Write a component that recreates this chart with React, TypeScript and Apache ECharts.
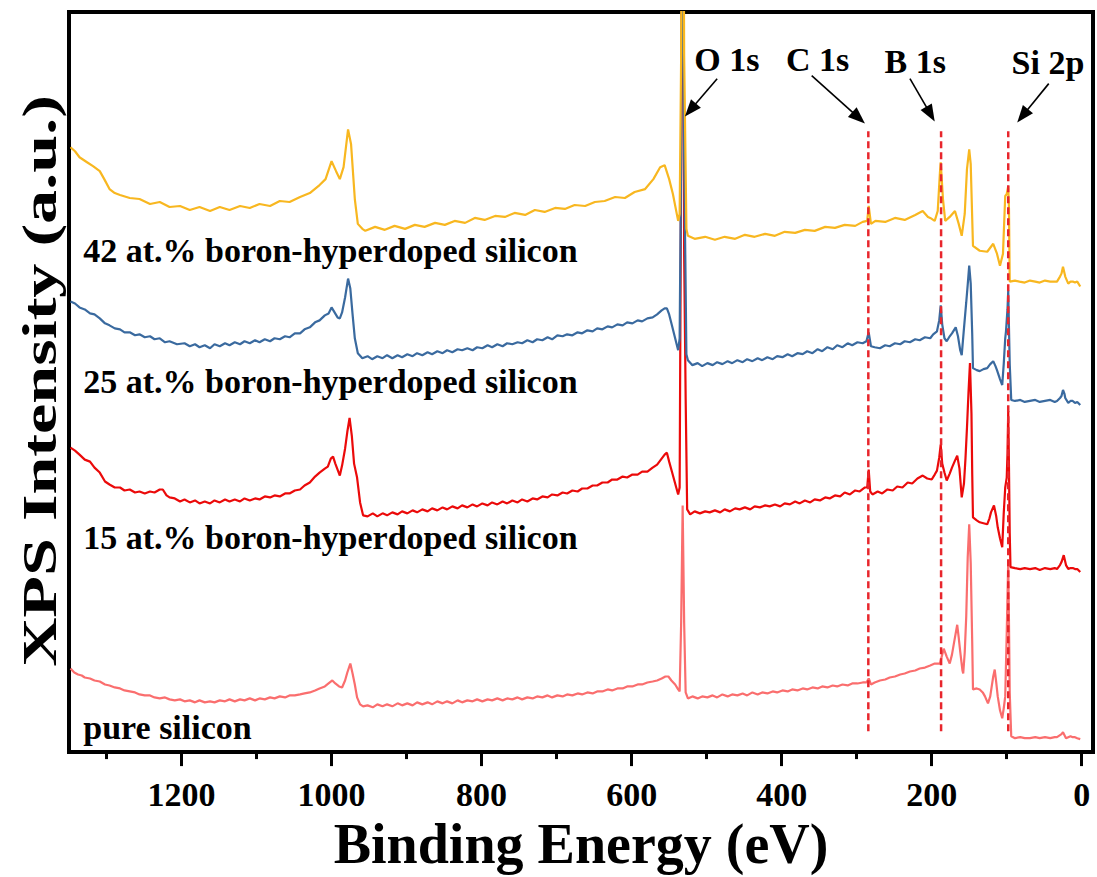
import React, { useEffect, useRef } from 'react';
import * as echarts from 'echarts';

// Binding energy tick labels (eV) and minor ticks
const energyTicks = [0, 200, 400, 600, 800, 1000, 1200];
const minorEnergyTicks = [100, 300, 500, 700, 900, 1100, 1300];

const sampleNames = [
  'pure silicon',
  '15 at.% boron-hyperdoped silicon',
  '25 at.% boron-hyperdoped silicon',
  '42 at.% boron-hyperdoped silicon',
];

const peakNames = ['O 1s', 'C 1s', 'B 1s', 'Si 2p'];
const peakEnergies = [532, 284.5, 187.5, 98];
const markerEnergies = [284.5, 187.5, 98];

// [binding energy (eV), stacked intensity (a.u.)]
const pureSi = [
  [1348,84],[1343,80],[1338,78],[1333,77],[1329,75],[1322,74],[1316,72],[1309,71],[1302,68],[1296,67],[1289,65],[1282,64],[1276,62],[1269,61],[1262,60],[1256,58],[1249,57],[1242,57],[1236,55],[1229,54],[1222,55],[1216,53],[1209,52],[1202,53],[1196,51],[1189,52],[1182,50],[1176,52],[1169,50],[1162,51],[1156,50],[1149,52],[1142,51],[1136,53],[1129,51],[1122,53],[1116,52],[1109,54],[1102,52],[1096,54],[1089,53],[1082,55],[1076,54],[1069,56],[1062,55],[1056,57],[1049,57],[1042,58],[1036,59],[1029,60],[1022,62],[1016,64],[1009,66],[1004,69],[999,72],[995,69],[990,66],[986,65],[982,72],[979,80],[975,89],[972,79],[969,68],[966,55],[962,48],[958,46],[952,47],[945,45],[939,48],[932,46],[926,48],[919,46],[912,49],[906,47],[899,49],[892,47],[886,50],[879,48],[872,50],[866,48],[859,51],[852,49],[846,51],[839,49],[832,52],[826,50],[819,52],[812,51],[806,53],[799,51],[792,53],[786,52],[779,54],[772,52],[766,54],[759,53],[752,55],[746,53],[739,55],[732,54],[726,56],[719,55],[712,57],[706,55],[699,57],[692,56],[686,58],[679,57],[672,59],[666,58],[659,60],[652,59],[646,61],[639,61],[632,63],[626,62],[619,64],[612,64],[606,66],[599,66],[592,68],[586,68],[579,70],[572,71],[566,72],[560,74],[555,76],[551,76],[547,72],[542,68],[538,63],[536,61],[534,130],[532,248],[530,130],[528,60],[525,54],[519,56],[512,54],[506,56],[499,55],[492,57],[486,55],[479,58],[472,56],[466,58],[459,57],[452,59],[446,57],[439,60],[432,58],[426,60],[419,59],[412,61],[406,60],[399,62],[392,61],[386,63],[379,62],[372,64],[366,63],[359,65],[352,64],[346,66],[339,65],[332,67],[326,66],[319,68],[312,67],[306,69],[299,69],[292,70],[287,70],[284,74],[281,68],[276,70],[269,72],[262,73],[256,75],[249,76],[242,78],[236,79],[229,81],[222,82],[216,84],[209,85],[202,87],[196,89],[189,89],[186,98],[184,104],[182,100],[180,96],[176,89],[173,98],[170,111],[166,128],[164,115],[162,101],[159,82],[158,79],[156,100],[154,136],[152,196],[150,229],[148,190],[146,110],[145,63],[140,64],[136,63],[132,60],[129,56],[125,49],[122,56],[120,66],[118,76],[116,83],[114,70],[112,56],[109,42],[106,34],[104,44],[102,56],[100,120],[98,193],[97,130],[96,60],[94,16],[89,14],[82,15],[76,14],[69,14],[62,15],[56,14],[49,15],[42,14],[36,15],[33,15],[29,17],[27,18],[25,20],[23,17],[21,14],[18,15],[15,16],[12,15],[9,15],[6,14],[2,13],
];

const boron15 = [
  [1348,306],[1342,303],[1336,299],[1329,294],[1322,292],[1316,286],[1309,281],[1302,272],[1296,269],[1289,266],[1282,266],[1276,263],[1269,264],[1262,261],[1256,262],[1249,260],[1242,262],[1236,261],[1229,264],[1225,264],[1220,258],[1216,256],[1209,255],[1202,252],[1196,254],[1189,251],[1182,253],[1176,250],[1169,252],[1162,250],[1156,253],[1149,251],[1142,254],[1136,252],[1129,254],[1122,252],[1116,255],[1109,253],[1102,255],[1096,254],[1089,257],[1082,256],[1076,258],[1069,257],[1062,260],[1056,260],[1049,263],[1042,264],[1036,268],[1029,271],[1022,277],[1016,281],[1009,285],[1005,287],[1001,295],[998,297],[995,290],[992,284],[989,278],[986,288],[982,305],[979,322],[976,336],[973,318],[970,290],[966,276],[962,251],[958,238],[952,237],[945,240],[939,237],[932,240],[926,238],[919,241],[912,239],[906,242],[899,240],[892,243],[886,241],[879,244],[872,242],[866,245],[859,243],[852,246],[846,244],[839,247],[832,245],[826,248],[819,246],[812,249],[806,247],[799,250],[792,248],[786,251],[779,249],[772,252],[766,250],[759,253],[752,251],[746,254],[739,252],[732,255],[726,254],[719,257],[712,256],[706,259],[699,258],[692,261],[686,260],[679,263],[672,262],[666,265],[659,265],[652,268],[646,268],[639,271],[632,271],[626,274],[619,274],[612,277],[606,276],[599,279],[592,279],[586,282],[579,282],[572,286],[566,289],[560,295],[556,299],[553,301],[550,292],[546,281],[542,270],[538,259],[536,266],[534,600],[532,1000],[530,500],[528,356],[526,244],[522,239],[516,242],[509,240],[502,242],[496,241],[489,243],[482,241],[476,244],[469,242],[462,245],[456,244],[449,246],[442,244],[436,247],[429,246],[422,248],[416,247],[409,249],[402,247],[396,250],[389,249],[382,252],[376,250],[369,253],[362,251],[356,254],[349,253],[342,256],[336,255],[329,258],[322,257],[316,261],[309,259],[302,263],[296,262],[289,266],[286,266],[284,284],[282,262],[279,259],[272,262],[266,260],[259,264],[252,263],[246,267],[239,266],[232,271],[226,270],[219,275],[212,278],[206,275],[200,274],[196,279],[193,283],[190,296],[188,309],[186,290],[183,281],[180,273],[176,280],[173,286],[169,293],[166,298],[163,285],[160,256],[157,270],[155,295],[153,326],[151,361],[149,391],[147,340],[146,280],[145,236],[140,233],[136,231],[131,230],[126,229],[123,235],[121,241],[117,248],[114,237],[112,226],[109,215],[106,206],[104,240],[102,266],[100,276],[99,300],[98,343],[97,286],[96,220],[95,186],[89,185],[82,184],[76,185],[69,184],[62,185],[56,183],[49,185],[42,184],[36,185],[33,184],[29,188],[27,191],[24,198],[21,188],[18,184],[15,185],[12,185],[9,184],[6,184],[2,181],
];

const boron25 = [
  [1348,453],[1342,451],[1336,447],[1329,445],[1322,441],[1316,440],[1309,436],[1302,431],[1296,429],[1289,426],[1282,425],[1276,422],[1269,422],[1262,419],[1256,420],[1249,417],[1242,418],[1236,415],[1229,416],[1222,412],[1216,413],[1206,410],[1196,411],[1189,408],[1182,410],[1176,407],[1169,409],[1162,406],[1156,410],[1149,408],[1142,411],[1136,409],[1129,412],[1122,410],[1116,413],[1109,411],[1102,414],[1096,412],[1089,415],[1082,413],[1076,416],[1069,415],[1062,418],[1056,417],[1049,421],[1042,421],[1036,425],[1029,427],[1022,432],[1016,434],[1009,439],[1004,441],[1000,447],[996,442],[992,437],[989,436],[986,442],[982,457],[978,476],[975,466],[972,440],[969,416],[965,401],[959,396],[952,398],[946,395],[939,398],[932,396],[926,399],[919,396],[912,399],[906,397],[899,400],[892,398],[886,401],[879,399],[872,402],[866,400],[859,403],[852,401],[846,404],[839,402],[832,405],[826,404],[819,406],[812,404],[806,407],[799,406],[792,409],[786,407],[779,410],[772,408],[766,411],[759,410],[752,412],[746,411],[739,414],[732,412],[726,415],[719,414],[712,417],[706,415],[699,419],[692,418],[686,420],[679,419],[672,422],[666,421],[659,424],[652,423],[646,426],[639,425],[632,428],[626,427],[619,430],[612,429],[606,432],[599,431],[592,434],[586,433],[579,436],[572,437],[566,440],[560,444],[556,446],[553,446],[550,440],[546,428],[542,416],[538,404],[536,416],[534,600],[532,1000],[530,600],[527,400],[525,394],[519,389],[512,391],[506,388],[499,391],[492,389],[486,392],[479,390],[472,393],[466,391],[459,394],[452,392],[446,395],[439,393],[432,396],[426,394],[419,397],[412,395],[406,398],[399,397],[392,400],[386,398],[379,401],[372,400],[366,403],[359,401],[352,405],[346,403],[339,407],[332,405],[326,409],[319,407],[312,411],[306,409],[299,412],[292,411],[287,413],[284,422],[281,408],[276,407],[269,406],[262,409],[256,408],[249,411],[242,410],[236,413],[229,412],[222,415],[216,414],[209,417],[202,416],[198,420],[193,423],[190,434],[188,449],[186,430],[183,416],[180,413],[176,418],[173,421],[168,427],[165,418],[162,404],[160,399],[157,426],[154,452],[152,470],[150,489],[148,471],[146,420],[145,386],[140,384],[136,383],[131,385],[126,386],[122,390],[118,393],[115,388],[113,384],[109,375],[106,369],[104,390],[102,416],[101,423],[99,445],[98,464],[97,426],[96,390],[94,354],[89,353],[82,354],[76,352],[69,353],[62,354],[56,352],[49,353],[42,354],[36,352],[33,353],[29,356],[27,358],[25,364],[23,360],[22,356],[18,351],[15,353],[12,353],[9,351],[6,352],[2,349],
];

const boron42 = [
  [1348,608],[1342,604],[1336,598],[1326,593],[1318,589],[1309,584],[1303,576],[1296,566],[1289,562],[1282,560],[1269,557],[1256,556],[1242,551],[1229,553],[1216,548],[1202,549],[1189,545],[1176,548],[1162,544],[1149,548],[1136,545],[1122,549],[1109,547],[1096,551],[1082,549],[1069,554],[1056,553],[1042,558],[1029,562],[1016,570],[1008,576],[1000,594],[994,584],[989,576],[984,588],[978,626],[974,611],[969,556],[965,531],[959,526],[955,524],[942,528],[929,525],[916,529],[902,526],[889,530],[876,528],[862,532],[849,530],[836,534],[822,532],[809,537],[796,535],[782,539],[769,538],[756,542],[742,540],[729,545],[716,543],[702,547],[689,546],[676,550],[662,549],[649,553],[636,554],[622,558],[609,557],[596,563],[582,566],[571,576],[562,588],[556,590],[550,576],[545,561],[538,534],[536,541],[534,700],[532,1100],[530,700],[527,526],[525,519],[516,516],[502,518],[489,515],[476,518],[462,516],[449,520],[436,518],[422,521],[409,519],[396,523],[382,522],[369,525],[356,524],[342,528],[329,527],[316,530],[302,529],[292,533],[286,534],[284,549],[281,531],[275,534],[262,533],[249,537],[236,535],[222,540],[212,544],[205,538],[202,537],[196,534],[192,544],[189,583],[188,593],[185,556],[182,534],[176,538],[169,544],[164,531],[160,519],[156,541],[153,586],[150,606],[148,591],[145,509],[136,504],[126,503],[118,511],[113,501],[109,489],[105,501],[102,559],[100,561],[98,569],[97,546],[96,473],[89,474],[83,473],[76,472],[69,474],[62,473],[56,472],[49,474],[42,473],[33,473],[29,478],[27,481],[25,488],[22,478],[18,471],[15,473],[12,473],[9,472],[6,473],[2,468],
];

export default function App() {
  const ref = useRef<HTMLDivElement>(null);

  useEffect(() => {
    const chart = echarts.init(ref.current!, undefined, { renderer: 'svg' });
    const font = '"Liberation Serif", "Times New Roman", serif';
    const colors = ['#FA6E6E', '#EB0A0A', '#3A6A9F', '#F8B720'];
    const spectra = [pureSi, boron15, boron25, boron42];

    const series: any[] = spectra.map((d, i) => ({
      type: 'line',
      name: sampleNames[i],
      data: d,
      symbol: 'none',
      showSymbol: false,
      clip: true,
      silent: true,
      z: 2 + i,
      lineStyle: { color: colors[i], width: 2.2 },
    }));
    markerEnergies.forEach((e) => {
      series.push({
        type: 'line',
        data: [[e, 21], [e, 624]],
        symbol: 'none',
        silent: true,
        z: 10,
        lineStyle: { color: '#E8262C', width: 2.5, type: [7, 4] },
      });
    });

    const xMin = -15;
    const xMax = 1350;

    chart.setOption({
      animation: false,
      backgroundColor: '#ffffff',
      grid: {
        left: 69, right: 4, top: 12, bottom: 121,
        show: true, borderColor: '#000', borderWidth: 4, backgroundColor: 'transparent',
      },
      xAxis: [
        {
          type: 'value', min: xMin, max: xMax, inverse: true, position: 'bottom',
          axisLine: { show: true, onZero: false, lineStyle: { color: '#000', width: 4 } },
          axisTick: { show: true, inside: false, length: 14, customValues: energyTicks, lineStyle: { color: '#000', width: 3 } },
          axisLabel: {
            show: true, customValues: energyTicks, margin: 25,
            formatter: (v: number) => String(v),
            fontSize: 34, fontWeight: 'bold', fontFamily: font, color: '#000',
          },
          splitLine: { show: false },
          name: 'Binding Energy (eV)', nameLocation: 'middle', nameGap: 56,
          nameTextStyle: { fontSize: 56, fontWeight: 'bold', fontFamily: font, color: '#000' },
        },
        {
          type: 'value', min: xMin, max: xMax, inverse: true, position: 'bottom',
          axisLine: { show: false, onZero: false },
          axisTick: { show: true, inside: false, length: 7, customValues: minorEnergyTicks, lineStyle: { color: '#000', width: 3 } },
          axisLabel: { show: false },
          splitLine: { show: false },
        },
      ],
      yAxis: {
        type: 'value', min: 0, max: 744,
        axisLine: { show: true, onZero: false, lineStyle: { color: '#000', width: 4 } },
        axisTick: { show: false }, axisLabel: { show: false }, splitLine: { show: false },
      },
      series,
    });

    const px = (e: number, v: number) =>
      chart.convertToPixel({ xAxisIndex: 0, yAxisIndex: 0 }, [e, v]) as number[];

    // annotation layout in data coordinates
    const peakTextAt = [[473, 696], [352, 696], [222, 694], [45, 693]];
    const arrowFrom = [[486, 677], [360, 680], [229, 677], [44, 672]];
    const arrowTo = [[peakEnergies[0] - 3, 639], [peakEnergies[1] + 4.5, 632], [peakEnergies[2] + 8.5, 634], [peakEnergies[3] - 12, 633]];
    const sampleTextAt = [[1331, 25], [1331, 216], [1331, 373], [1331, 504]];

    const graphic: any[] = [];
    peakNames.forEach((name, i) => {
      const p = px(peakTextAt[i][0], peakTextAt[i][1]);
      graphic.push({
        type: 'text', x: p[0], y: p[1], z: 100,
        style: { text: name, fontSize: 34, fontWeight: 'bold', fontFamily: font, fill: '#000', align: 'center', verticalAlign: 'middle' },
      });
      const s = px(arrowFrom[i][0], arrowFrom[i][1]);
      const t = px(arrowTo[i][0], arrowTo[i][1]);
      const dx = t[0] - s[0];
      const dy = t[1] - s[1];
      const len = Math.hypot(dx, dy);
      const ux = dx / len, uy = dy / len;
      const nx = -uy, ny = ux;
      const hl = 17, hw = 6.5;
      const bx = t[0] - hl * ux, by = t[1] - hl * uy;
      graphic.push({
        type: 'line', z: 100,
        shape: { x1: s[0], y1: s[1], x2: bx + 2 * ux, y2: by + 2 * uy },
        style: { stroke: '#000', lineWidth: 1.6 },
      });
      graphic.push({
        type: 'polygon', z: 100,
        shape: { points: [[t[0], t[1]], [bx + hw * nx, by + hw * ny], [bx - hw * nx, by - hw * ny]] },
        style: { fill: '#000' },
      });
    });
    sampleNames.forEach((name, i) => {
      const p = px(sampleTextAt[i][0], sampleTextAt[i][1]);
      graphic.push({
        type: 'text', x: p[0], y: p[1], z: 100,
        style: { text: name, fontSize: 34, fontWeight: 'bold', fontFamily: font, fill: '#000', align: 'left', verticalAlign: 'middle' },
      });
    });
    graphic.push({
      type: 'text', x: 40, y: 381, rotation: Math.PI / 2, scaleX: 1.42, z: 100,
      style: { text: 'XPS Intensity (a.u.)', fontSize: 48, fontWeight: 'bold', fontFamily: font, fill: '#000', align: 'center', verticalAlign: 'middle' },
    });
    chart.setOption({ graphic });

    return () => chart.dispose();
  }, []);

  return (
    <div
      ref={ref}
      style={{ position: 'fixed', left: 0, top: 0, width: 1097, height: 877, background: '#fff' }}
    />
  );
}
